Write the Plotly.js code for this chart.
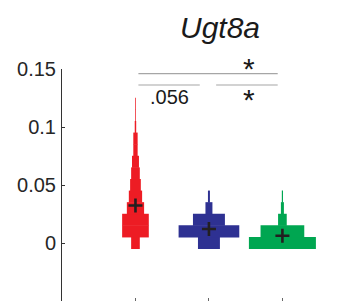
<!DOCTYPE html>
<html>
<head>
<meta charset="utf-8">
<script src="https://cdn.plot.ly/plotly-3.0.1.min.js"></script>
<style>html,body{margin:0;padding:0;background:#fff;}#chart{width:350px;height:301px;}</style>
</head>
<body>
<div id="chart"></div>
<script>
// Histogram bin centres (y values) and the width of each bin (in category units)
const binCenters = [0, 0.01, 0.02, 0.03, 0.04, 0.05, 0.06, 0.07, 0.08, 0.09, 0.10, 0.11, 0.12];
const groupPositions = [1, 2, 3];
const redWidths   = [0.118, 0.363, 0.363, 0.235, 0.181, 0.146, 0.118, 0.095, 0.059, 0.059, 0.020, 0.010, 0.010];
const blueWidths  = [0.299, 0.826, 0.435, 0.095, 0.027];
const greenWidths = [0.912, 0.595, 0.118, 0.041, 0.016];
const groupMeans  = [0.0323, 0.0121, 0.0063];
const yTickVals   = [0, 0.05, 0.1, 0.15];
const yTickText   = ['0', '0.05', '0.1', '0.15'];
const binSize = 0.01;

const colors = ['#ED1C24', '#2E3192', '#00A651'];
const allWidths = [redWidths, blueWidths, greenWidths];

const traces = allWidths.map((w, i) => ({
  type: 'bar',
  orientation: 'h',
  y: binCenters.slice(0, w.length),
  x: w,
  base: w.map(v => groupPositions[i] - v / 2),
  width: binSize * 1.04,
  marker: {color: colors[i], line: {width: 0}},
  hoverinfo: 'skip',
  showlegend: false
}));

traces.push({
  type: 'scatter',
  mode: 'markers',
  x: groupPositions,
  y: groupMeans,
  marker: {symbol: 'cross-thin', size: 10, line: {width: 2.6, color: '#231F20'}, color: '#231F20'},
  showlegend: false,
  hoverinfo: 'skip'
});

const lineStyle = {color: '#A6A6A6', width: 1.2};
const layout = {
  width: 350, height: 301,
  margin: {l: 62, r: 0, t: 69, b: 0},
  paper_bgcolor: '#fff', plot_bgcolor: '#fff',
  barmode: 'overlay',
  font: {family: 'Liberation Sans, Arial, sans-serif', color: '#262626'},
  xaxis: {
    range: [0, 3.92], showgrid: false, zeroline: false, showline: false,
    tickvals: groupPositions, ticktext: ['', '', ''], ticks: 'inside', ticklen: 3,
    tickcolor: '#666', tickwidth: 1, fixedrange: true
  },
  yaxis: {
    range: [-0.05, 0.15], showgrid: false, zeroline: false,
    showline: true, linecolor: '#333', linewidth: 1,
    tickvals: yTickVals, ticktext: yTickText, ticks: 'inside', ticklen: 3,
    tickcolor: '#333', tickfont: {size: 20, color: '#262626'}, ticklabelstandoff: 1
  },
  shapes: [
    {type: 'line', xref: 'x', yref: 'y', x0: 1.04, x1: 2.936, y0: 0.146, y1: 0.146, line: lineStyle},
    {type: 'line', xref: 'x', yref: 'y', x0: 1.04, x1: 1.875, y0: 0.1362, y1: 0.1362, line: lineStyle},
    {type: 'line', xref: 'x', yref: 'y', x0: 2.098, x1: 2.936, y0: 0.1362, y1: 0.1362, line: lineStyle}
  ],
  annotations: [
    {text: '<i>Ugt8a</i>', xref: 'paper', yref: 'paper', x: 0.549, y: 1.18, xanchor: 'center', yanchor: 'middle',
     showarrow: false, font: {size: 30, color: '#1a1a1a'}},
    {text: '.056', xref: 'x', yref: 'y', x: 1.46, y: 0.1255, xanchor: 'center', yanchor: 'middle',
     showarrow: false, font: {size: 20, color: '#1a1a1a'}},
    {text: '*', xref: 'paper', yref: 'paper', x: (2.54 / 3.92), y: 1.004, xanchor: 'center', yanchor: 'middle',
     showarrow: false, font: {size: 30, color: '#1a1a1a'}},
    {text: '*', xref: 'paper', yref: 'paper', x: (2.54 / 3.92), y: 0.867, xanchor: 'center', yanchor: 'middle',
     showarrow: false, font: {size: 30, color: '#1a1a1a'}}
  ]
};

Plotly.newPlot('chart', traces, layout, {displayModeBar: false, staticPlot: true});
</script>
</body>
</html>
